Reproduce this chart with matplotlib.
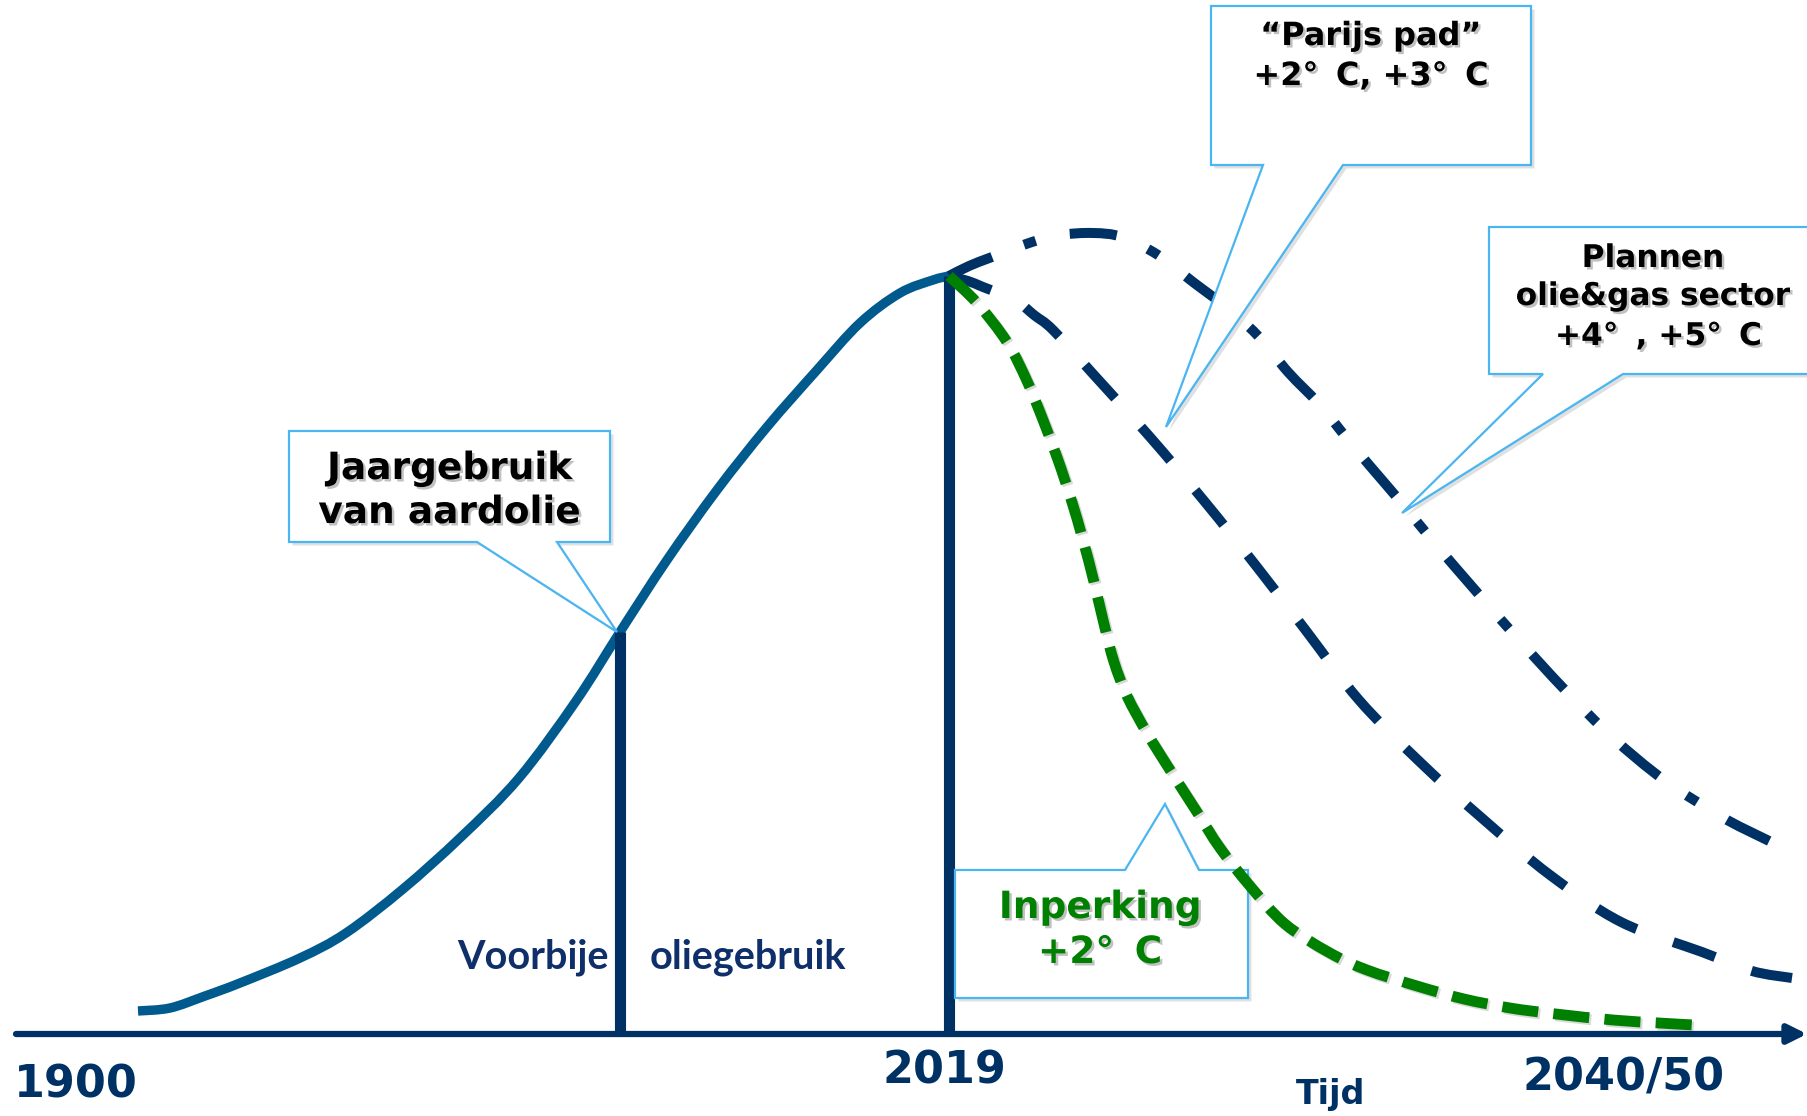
import matplotlib
matplotlib.use("Agg")
import matplotlib.pyplot as plt
import matplotlib.patheffects as pe
from matplotlib.patches import Polygon, PathPatch
from matplotlib.path import Path

plt.rcParams['lines.scale_dashes'] = False

# ---------------- data (time position, usage height above the time axis) ----------------
hist_x = [138, 170, 205, 240, 300, 346, 403, 461, 519, 576, 620, 667, 717, 767, 817, 860, 900, 933, 949]
hist_y = [23, 26, 38, 51, 76, 101, 145, 197, 256, 333, 402, 474, 544, 607, 664, 711, 741, 754, 758]

green_x = [949, 977, 1007, 1027, 1043, 1058, 1071, 1083, 1094, 1104, 1114, 1127, 1147, 1170, 1197,
           1220, 1250, 1285, 1330, 1367, 1417, 1464, 1510, 1556, 1613, 1659, 1694]
green_y = [758, 731, 692, 653, 614, 574, 535, 494, 452, 410, 372, 338, 301, 264, 222,
           186, 148, 110, 81, 64, 48, 35, 26, 20, 14, 11, 9]

paris_x = [949, 968, 983, 1015, 1034, 1053, 1094, 1150, 1205, 1257, 1307, 1359, 1421, 1483, 1550,
           1621, 1702, 1752, 1792]
paris_y = [758, 753, 747, 734, 719, 704, 659, 597, 532, 467, 402, 334, 271, 215, 159,
           112, 82, 63, 56]

plans_x = [949, 969, 992, 1032, 1060, 1093, 1122, 1158, 1193, 1230, 1260, 1288, 1320, 1345, 1370,
           1400, 1432, 1475, 1519, 1565, 1612, 1664, 1722, 1763, 1792]
plans_y = [758, 768, 777, 792, 799, 801, 797, 779, 752, 724, 696, 662, 629, 598, 568,
           533, 494, 444, 394, 344, 297, 254, 217, 196, 182]

marker_x = [620, 949]          # 'Jaargebruik' point and 2019
marker_top = [402, 758]

year_labels = ["1900", "2019", "2040/50"]
year_x = [14, 944, 1624]
year_base = [-64, -49, -56]

navy = '#003165'
curve_blue = '#005A8E'
green = '#008000'
callout_col = '#4AB5F0'

fig = plt.figure(figsize=(18.07, 11.16), dpi=100)
ax = fig.add_axes([0, 0, 1, 1])
ax.set_xlim(0, 1807)
ax.set_ylim(-82, 1034)
ax.axis('off')


def smooth_path(xs, ys):
    """Smooth curve through the read points (Catmull-Rom as cubic Bezier segments)."""
    pts = list(zip(xs, ys))
    n = len(pts)
    verts = [pts[0]]
    codes = [Path.MOVETO]
    for i in range(n - 1):
        p0 = pts[i - 1] if i > 0 else pts[i]
        p1 = pts[i]
        p2 = pts[i + 1]
        p3 = pts[i + 2] if i + 2 < n else pts[i + 1]
        c1 = (p1[0] + (p2[0] - p0[0]) / 6.0, p1[1] + (p2[1] - p0[1]) / 6.0)
        c2 = (p2[0] - (p3[0] - p1[0]) / 6.0, p2[1] - (p3[1] - p1[1]) / 6.0)
        verts += [c1, c2, p2]
        codes += [Path.CURVE4] * 3
    return Path(verts, codes)


def curve(xs, ys, color, lw, ls='solid', z=2, effects=None):
    patch = PathPatch(smooth_path(xs, ys), fill=False, edgecolor=color, lw=lw,
                      linestyle=ls, capstyle='butt', joinstyle='round', zorder=z)
    if effects:
        patch.set_path_effects(effects)
    ax.add_patch(patch)


# ---------------- time axis ----------------
ax.annotate('', xy=(1807, 0), xytext=(16, 0),
            arrowprops=dict(arrowstyle='-|>', lw=4.5, color=navy, mutation_scale=28,
                            shrinkA=0, shrinkB=0), zorder=2)

# ---------------- curves ----------------
curve(hist_x, hist_y, curve_blue, 6.8)
ax.vlines(marker_x, 0, marker_top, color=navy, lw=8, zorder=2.5)
curve(paris_x, paris_y, navy, 7.2, ls=(0, (32, 28)))
curve(plans_x, plans_y, navy, 7.2, ls=(0, (34, 24.5, 9, 25)))
curve(green_x, green_y, green, 7.8, ls=(0, (26, 11)), z=4,
      effects=[pe.SimpleLineShadow(offset=(1.5, -1.5), alpha=0.15), pe.Normal()])

# ---------------- callouts ----------------
box_shadow = [pe.withSimplePatchShadow(offset=(2.5, -2.5), shadow_rgbFace='black', alpha=0.12)]
text_shadow = [pe.withSimplePatchShadow(offset=(1.8, -1.8), shadow_rgbFace='#777777', alpha=0.45)]


def callout(left, right, top, bottom, b1, b2, tip, pointer='bottom'):
    if pointer == 'bottom':
        pts = [(left, top), (right, top), (right, bottom), (b2, bottom), tip,
               (b1, bottom), (left, bottom)]
    else:
        pts = [(left, bottom), (right, bottom), (right, top), (b2, top), tip,
               (b1, top), (left, top)]
    poly = Polygon(pts, closed=True, facecolor='white', edgecolor=callout_col,
                   lw=1.6, joinstyle='miter', zorder=3, path_effects=box_shadow)
    ax.add_patch(poly)


def lines_text(cx, baselines, lines, size, color='black'):
    for yb, s in zip(baselines, lines):
        ax.text(cx, yb, s, ha='center', va='baseline', fontsize=size, fontweight='bold',
                family='DejaVu Sans', color=color, zorder=5, path_effects=text_shadow)


deg_c = "\u00b0\u2009 C"

callout(289, 610, 603, 492, 477, 557, (617, 402))
lines_text(449.5, [555, 511], ["Jaargebruik", "van aardolie"], 27)

callout(1211, 1531, 1028, 869, 1263, 1343, (1166, 607))
lines_text(1371, [989, 949], ["\u201cParijs pad\u201d", "+2" + deg_c + ", +3" + deg_c], 23)

callout(1489, 1830, 807, 660, 1543, 1623, (1402, 521))
lines_text(1653, [767, 729, 689], ["Plannen", "olie&gas sector", " +4\u00b0\u2009 , +5" + deg_c], 22.5)

callout(955, 1248, 164, 36, 1125, 1199, (1165, 230), pointer='top')
lines_text(1100, [116, 71], ["Inperking", "+2" + deg_c], 27, color=green)

# ---------------- labels ----------------
ax.text(609, 65, "Voorbije", ha='right', va='baseline', fontsize=28.5, fontweight='bold',
        family='Lato', color='#0E2F6A', zorder=5)
ax.text(650, 65, "oliegebruik", ha='left', va='baseline', fontsize=28.5, fontweight='bold',
        family='Lato', color='#0E2F6A', zorder=5)

for lab, xx, yb in zip(year_labels, year_x, year_base):
    ax.text(xx, yb, lab, ha='left' if lab == "1900" else 'center', va='baseline',
            fontsize=32, fontweight='bold', family='DejaVu Sans', color=navy, zorder=5)

ax.text(1331, -70, "Tijd", ha='center', va='baseline', fontsize=24, fontweight='bold',
        family='DejaVu Sans', color=navy, zorder=5)

fig.savefig('out.png', dpi=100, facecolor='white')
